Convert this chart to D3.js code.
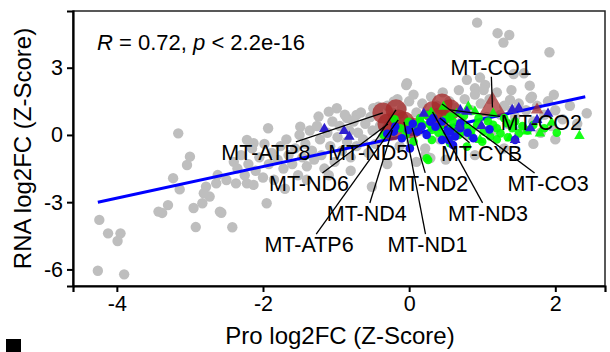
<!DOCTYPE html>
<html>
<head>
<meta charset="utf-8">
<script src="https://cdn.jsdelivr.net/npm/d3@7"></script>
<style>
  body { margin: 0; background: #fff; }
  svg { display: block; }
  text { font-family: "Liberation Sans", Arial, sans-serif; fill: #000; }
</style>
</head>
<body>
<svg id="chart" width="610" height="352"></svg>
<script>
// grey: all other proteins [pro, rna]
const greyPoints = [
  [-4.24,-3.79],[-4.12,-4.39],[-3.95,-4.39],[-3.99,-4.73],[-4.26,-6.06],[-3.90,-6.22],
  [-3.23,-1.93],[-3.14,-2.43],[-3.30,-3.13],[-3.43,-3.42],[-3.38,-3.48],[-2.95,-3.26],
  [-2.92,-4.11],[-3.00,-0.97],[-3.04,-1.34],[-3.16,0.07],[-2.81,-2.60],[-2.78,-2.31],
  [-2.73,-2.75],[-2.83,-3.05],[-2.64,-2.16],[-2.57,-3.47],[-2.42,-4.12],[-2.50,-2.01],
  [-2.37,-2.16],[-2.62,-1.79],[-2.59,-3.42],[-2.22,-2.16],[-2.13,-2.23],[-1.95,-3.05],
  [-0.51,-2.31],[0.29,-1.03],[0.22,-0.90],
  [0.93,5.01],[1.21,4.54],[1.37,4.46],[1.29,4.12],[1.92,3.69],[-0.03,2.31],[0.79,2.46],
  [0.97,2.56],[1.43,2.72],[1.57,2.75],[1.68,1.71],[1.98,1.79],[2.43,0.97],[0.90,2.08],
  [1.04,2.23],[1.38,1.56],[1.66,1.64],[1.41,1.12],[-0.04,2.23],[-0.21,1.49],[-0.42,1.26],
  [-0.49,1.19],[-0.99,1.19],[-0.85,0.75],[-0.72,0.89],[-1.49,0.37],[-1.93,0.30],[-1.10,1.04],
  [-1.24,0.82],[-2.22,-0.22],[-2.13,-0.37],
  [-2.40,-1.20],[-2.35,-1.50],[-2.30,-0.90],[-2.25,-1.80],[-2.20,-1.30],[-2.15,-0.60],
  [-2.10,-1.60],[-2.05,-1.00],[-2.00,-1.90],[-1.98,-0.40],[-1.92,-1.30],[-1.88,-0.80],
  [-1.85,-2.00],[-1.80,-1.10],[-1.76,-0.50],[-1.72,-1.50],[-1.68,-0.20],[-1.65,-0.90],
  [-1.60,-1.30],[-1.56,-0.60],[-1.52,-1.80],[-1.50,0.00],[-1.46,-1.00],[-1.42,-0.40],
  [-1.40,-1.40],[-1.36,0.20],[-1.33,-0.70],[-1.30,-1.10],[-1.26,0.40],[-1.22,-0.20],
  [-1.20,-0.90],[-1.16,-1.50],[-1.12,0.10],[-1.08,-0.50],[-1.05,0.60],[-1.02,-1.20],
  [-0.98,-0.10],[-0.95,0.40],[-0.92,-0.70],[-0.88,0.90],[-0.85,-0.30],[-0.82,0.20],
  [-0.80,-1.00],[-0.76,0.60],[-0.72,-0.50],[-0.70,0.10],[-0.66,1.00],[-0.63,-0.20],
  [-0.60,0.50],[-0.56,-0.80],[-0.53,0.80],[-0.50,0.20],[-0.46,-0.40],[-0.43,1.10],
  [-0.40,0.40],[-0.36,-0.10],[-0.33,0.70],[-0.30,1.30],[-0.27,0.00],[-0.23,1.00],
  [-0.20,0.30],[-0.16,1.60],[-0.13,-0.50],[-0.10,1.20],[-0.06,0.60],[0.00,1.50],
  [0.03,-0.30],[0.06,1.80],[0.10,1.00],[0.14,0.20],[0.18,1.40],[0.22,-0.60],
  [0.26,0.90],[0.30,1.70],[0.34,0.50],[0.38,1.30],[0.42,-0.20],[0.46,1.90],
  [0.50,0.80],[0.55,1.50],[0.60,0.30],[0.64,1.20],[0.68,2.00],[0.72,0.60],
  [0.76,1.60],[0.80,0.00],[0.85,1.10],[0.90,1.80],[0.94,0.40],[0.98,1.40],
  [1.02,2.00],[1.06,0.80],[1.10,1.60],[1.15,0.20],[1.20,1.90],[1.25,0.90],
  [1.30,1.30],[1.35,0.50],[1.40,2.00],[1.45,0.80],[1.50,1.40],[1.55,0.30],
  [1.60,1.10],[1.65,2.20],[1.70,0.60],[1.75,1.30],[1.80,0.10],[1.85,0.90],
  [1.90,1.50],[1.95,0.40],[2.00,1.10],[2.10,0.70],[2.20,1.30],[2.30,0.50],
  [-1.70,-2.40],[-1.40,-2.00],[-1.10,-1.80],[-0.80,-1.60],[-0.30,-1.30],[0.10,-1.20],
  [0.50,-1.10],[0.90,-0.90],[1.30,-0.60],[1.70,-0.40],[2.00,-0.20]
];

const greenCircles = [
  [-0.12,0.30],[-0.01,0.59],[0.15,0.75],[0.19,0.45],[0.24,0.89],[0.31,0.22],[0.06,-0.30],
  [0.42,0.37],[0.49,0.67],[0.58,0.30],[0.68,0.00],[0.72,0.52],[0.26,-1.12],[-0.35,0.00],
  [0.15,0.60],[0.29,0.45],[0.56,0.82],[0.63,0.22],[0.70,0.07],[0.79,0.30],[0.86,-0.07],
  [0.93,0.45],[1.02,0.15],[1.11,-0.07],[1.20,0.30],[1.25,0.07],[1.34,0.52],[1.41,0.30],
  [1.50,0.07],[0.31,-0.22],[0.56,-0.37],[0.79,-0.52],[0.24,-1.04],[0.95,0.75],[1.08,0.60],
  [1.15,0.45],[1.30,0.75],[1.45,0.60],[1.55,0.40],[1.62,0.20],[1.00,-0.30],[1.20,-0.20],
  [0.85,0.20],[0.40,0.10],[0.50,0.05],[-0.05,0.00],[0.10,0.40],[-0.20,0.70],[0.60,0.60],
  [1.35,-0.10],[1.70,0.45],[1.85,0.30],[2.02,0.10],[0.75,0.85]
];
const greenTriangles = [
  [0.47,1.26],[0.90,1.04],[1.79,0.07],[2.33,-0.04],[0.97,-0.22],[1.38,-0.15],
  [1.61,0.15],[0.81,1.26],[1.15,0.95],[0.65,0.95],[1.95,0.55],[0.30,1.00]
];
const blueCircles = [
  [-0.19,0.37],[-0.21,0.15],[-0.01,0.22],[0.11,0.15],[0.17,0.37],[0.24,0.00],[0.29,0.59],
  [0.36,0.37],[0.45,-0.22],[0.54,-0.22],[0.63,-0.07],[0.70,0.30],[0.56,0.15],[0.01,-0.60],
  [0.33,0.75],[0.52,0.15],[0.70,0.52],[1.45,-0.22],[0.88,-0.15],[-0.30,0.05],[0.05,0.50],
  [0.45,0.60],[0.80,0.10],[1.10,0.25],[0.60,-0.45],[-0.10,-0.15]
];
const blueTriangles = [
  [-1.16,0.27],[-0.89,0.18],[-0.82,-0.08],[0.79,1.04],[0.99,0.40],[1.50,1.19],[1.75,0.67],
  [1.45,-0.22],[0.68,0.37],[0.70,1.10],[1.41,1.12],[1.66,0.30],[1.90,0.95],[0.20,0.95]
];

// mitochondrial genes
const mtGenes  = ["MT-ATP8","MT-ND5","MT-ND6","MT-ATP6","MT-ND4","MT-ND1","MT-ND2","MT-ND3","MT-CO3","MT-CYB","MT-CO2","MT-CO1",""];
const mtPro    = [-0.36,-0.18,-0.29,-0.15,-0.23,-0.07,0.04,0.32,0.45,0.42,0.56,1.14,1.75];
const mtRna    = [0.98,1.12,0.49,0.67,0.22,0.58,0.31,1.03,1.38,0.76,1.12,1.22,1.12];
const mtShape  = ["c","c","c","c","c","c","c","c","c","c","c","t","t"];
const mtLabelX = [-1.96,-0.56,-1.37,-1.37,-0.58,0.25,0.26,1.08,1.90,0.99,1.81,1.12,null];
const mtLabelY = [-0.76,-0.76,-2.14,-4.87,-3.48,-4.87,-2.14,-3.48,-2.14,-0.80,0.58,3.04,null];

const fitPro = [-4.26, 2.41];
const fitRna = [-3.00, 1.70];

const xTicks = [-4, -2, 0, 2];
const yTicks = [-6, -3, 0, 3];

const svg = d3.select("#chart");
const mLeft = 73, mRight = 605, mTop = 11, mBottom = 286;

const x = d3.scaleLinear().domain([-4.6, 2.68]).range([mLeft, mRight]);
const y = d3.scaleLinear().domain([-6.74, 5.53]).range([mBottom, mTop]);

const plot = svg.append("g");

plot.selectAll(".grey").data(greyPoints).enter().append("circle")
  .attr("cx", d => x(d[0])).attr("cy", d => y(d[1])).attr("r", 5.2)
  .attr("fill", "#bebebe");

plot.append("line")
  .attr("x1", x(fitPro[0])).attr("y1", y(fitRna[0]))
  .attr("x2", x(fitPro[1])).attr("y2", y(fitRna[1]))
  .attr("stroke", "#0000ff").attr("stroke-width", 3);

const mt = mtGenes.map((g, i) => ({gene: g, x: mtPro[i], y: mtRna[i], shape: mtShape[i], lx: mtLabelX[i], ly: mtLabelY[i]}));

plot.selectAll(".mtc").data(mt.filter(d => d.shape === "c")).enter().append("circle")
  .attr("cx", d => x(d.x)).attr("cy", d => y(d.y)).attr("r", 10.5)
  .attr("fill", "#a52a2a").attr("fill-opacity", 0.78);

plot.selectAll(".mtt").data(mt.filter(d => d.shape === "t")).enter().append("path")
  .attr("transform", d => `translate(${x(d.x)},${y(d.y)})`)
  .attr("d", d => d3.symbol(d3.symbolTriangle, d.gene ? 340 : 70)())
  .attr("fill", "#a52a2a").attr("fill-opacity", 0.72);

plot.selectAll(".gc").data(greenCircles).enter().append("circle")
  .attr("cx", d => x(d[0])).attr("cy", d => y(d[1])).attr("r", 4.3)
  .attr("fill", "#00ff00").attr("fill-opacity", 0.9);

plot.selectAll(".gt").data(greenTriangles).enter().append("path")
  .attr("transform", d => `translate(${x(d[0])},${y(d[1])})`)
  .attr("d", d3.symbol(d3.symbolTriangle, 48)())
  .attr("fill", "#00ff00").attr("fill-opacity", 0.9);

plot.selectAll(".bc").data(blueCircles).enter().append("circle")
  .attr("cx", d => x(d[0])).attr("cy", d => y(d[1])).attr("r", 4.3)
  .attr("fill", "#1515ee");

plot.selectAll(".bt").data(blueTriangles).enter().append("path")
  .attr("transform", d => `translate(${x(d[0])},${y(d[1])})`)
  .attr("d", d3.symbol(d3.symbolTriangle, 50)())
  .attr("fill", "#2d1fd0");

// labels with segments
const labeled = mt.filter(d => d.gene);
const segG = plot.append("g");
const labG = plot.append("g");
labeled.forEach(d => {
  const t = labG.append("text")
    .attr("x", x(d.lx)).attr("y", y(d.ly))
    .attr("text-anchor", "middle").attr("dy", "0.36em")
    .attr("font-size", "21.5px").text(d.gene);
  const b = t.node().getBBox();
  const cx = x(d.lx), cy = y(d.ly), px = x(d.x), py = y(d.y);
  const hw = b.width / 2 + 1, hh = b.height / 2 - 2;
  const dx = px - cx, dy = py - cy;
  const s = Math.min(Math.abs(hw / (dx || 1e-9)), Math.abs(hh / (dy || 1e-9)));
  segG.append("line")
    .attr("x1", cx + dx * s).attr("y1", cy + dy * s)
    .attr("x2", px).attr("y2", py)
    .attr("stroke", "#000").attr("stroke-width", 1.3);
});

// panel border
svg.append("rect").attr("x", mLeft).attr("y", mTop)
  .attr("width", mRight - mLeft).attr("height", mBottom - mTop)
  .attr("fill", "none").attr("stroke", "#222").attr("stroke-width", 1.5);

const xAxis = svg.append("g").attr("transform", `translate(0,${mBottom})`)
  .call(d3.axisBottom(x).tickValues(xTicks).tickSize(6).tickPadding(4).tickFormat(d3.format("d")));
const yAxis = svg.append("g").attr("transform", `translate(${mLeft},0)`)
  .call(d3.axisLeft(y).tickValues(yTicks).tickSize(6).tickPadding(4).tickFormat(d3.format("d")));
[xAxis, yAxis].forEach(a => {
  a.select(".domain").attr("stroke", "#000").attr("stroke-width", 2.2);
  a.selectAll(".tick line").attr("stroke", "#000").attr("stroke-width", 2);
  a.selectAll(".tick text").attr("font-size", "21.5px").attr("fill", "#000")
    .attr("font-family", "'Liberation Sans', Arial, sans-serif");
});
yAxis.selectAll(".tick text").text(d => d < 0 ? "-" + Math.abs(d) : d);
xAxis.selectAll(".tick text").text(d => d < 0 ? "-" + Math.abs(d) : d);

svg.append("text").attr("x", (mLeft + mRight) / 2 + 1).attr("y", 344)
  .attr("text-anchor", "middle").attr("font-size", "24px").text("Pro log2FC (Z-Score)");
svg.append("text").attr("transform", `translate(31,${(mTop + mBottom) / 2}) rotate(-90)`)
  .attr("text-anchor", "middle").attr("font-size", "24px").text("RNA log2FC (Z-Score)");

const ann = svg.append("text").attr("x", 97).attr("y", 50).attr("font-size", "22px");
ann.append("tspan").attr("font-style", "italic").text("R");
ann.append("tspan").text(" = 0.72, ");
ann.append("tspan").attr("font-style", "italic").text("p");
ann.append("tspan").text(" < 2.2e-16");

svg.append("rect").attr("x", 6).attr("y", 339).attr("width", 15).attr("height", 15).attr("fill", "#000");
</script>
</body>
</html>
